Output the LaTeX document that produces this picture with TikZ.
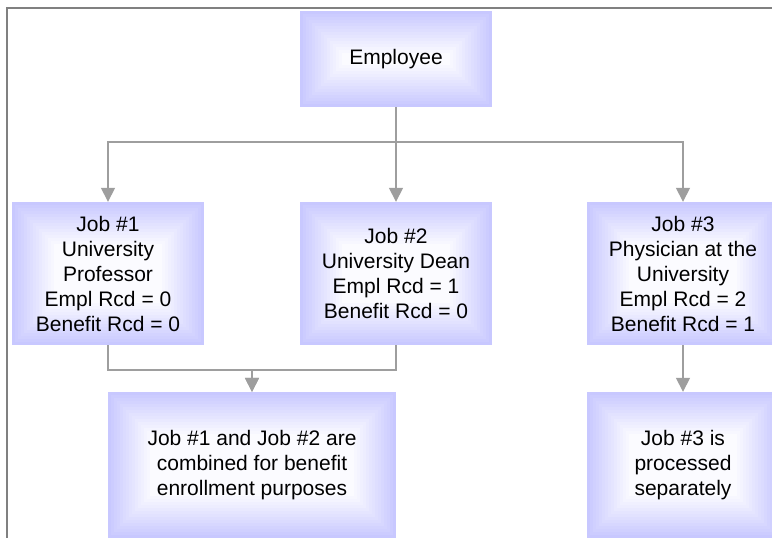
\documentclass[tikz,border=0pt]{standalone}
\usepackage{fontspec}
\setmainfont{Liberation Sans}
\usetikzlibrary{arrows.meta,calc}

\definecolor{boxblue}{RGB}{200,200,255}
\definecolor{linegray}{RGB}{158,158,158}
\definecolor{framegray}{RGB}{128,128,128}

\tikzset{
    jobbox/.style={minimum width=192pt, minimum height=143pt, inner sep=0pt,
        align=center, font=\fontsize{21}{25}\selectfont,
        path picture={
            \foreach \k in {0,...,14}{
                \pgfmathtruncatemacro\mix{100-\k*6.6}
                \fill[boxblue!\mix!white]
                    ([shift={(\k*3pt,\k*3pt)}]path picture bounding box.south west)
                    rectangle
                    ([shift={(-\k*3pt,-\k*3pt)}]path picture bounding box.north east);
            }
        }},
    conn/.style={draw=linegray, line width=1.6pt, -{Triangle[width=14pt,length=14pt]}},
    frame/.style={draw=framegray, line width=2.2pt}
}

\begin{document}
\begin{tikzpicture}[x=1pt, y=-1pt]
    \clip (0,0) rectangle (772,538);
    \draw[frame] (7,540) -- (7,8) -- (774,8);

    \node[jobbox, minimum height=96pt] (employee) at (396,59) {Employee};
    \node[jobbox] (job1) at (108,273.5) {Job \#1\\University\\Professor\\Empl Rcd = 0\\Benefit Rcd = 0};
    \node[jobbox] (job2) at (396,273.5) {Job \#2\\University Dean\\Empl Rcd = 1\\Benefit Rcd = 0};
    \node[jobbox] (job3) at (683,273.5) {Job \#3\\Physician at the\\University\\Empl Rcd = 2\\Benefit Rcd = 1};
    \node[jobbox, minimum width=288pt, minimum height=146pt] (combined) at (252,465)
        {Job \#1 and Job \#2 are\\combined for benefit\\enrollment purposes};
    \node[jobbox, minimum height=146pt] (separate) at (683,465) {Job \#3 is\\processed\\separately};

    \draw[conn] (employee.south) -- (job2.north);
    \draw[conn] (employee.south) -- ++(0,35) -| (job1.north);
    \draw[conn] (employee.south) -- ++(0,35) -| (job3.north);
    \draw[conn] (job1.south) -- ++(0,25) -| (combined.north);
    \draw[conn] (job2.south) -- ++(0,25) -| (combined.north);
    \draw[conn] (job3.south) -- (separate.north);
\end{tikzpicture}
\end{document}
